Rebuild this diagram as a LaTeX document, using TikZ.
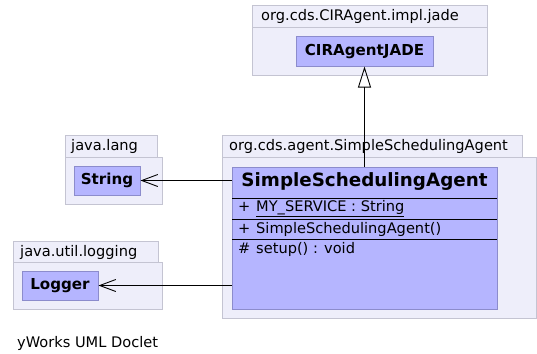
\documentclass[tikz,border=0pt]{standalone}
\usepackage{fontspec}
\setmainfont{DejaVu Sans}
\usetikzlibrary{arrows.meta}
\definecolor{pkgfill}{RGB}{238,238,250}
\definecolor{pkgline}{RGB}{196,196,210}
\definecolor{clsfill}{RGB}{181,181,255}
\definecolor{clsline}{RGB}{140,140,204}
\tikzset{
  pkg/.style={draw=pkgline, fill=pkgfill, line width=1pt, anchor=north west, inner sep=0pt},
  pkgname/.style={anchor=west, inner sep=0pt, font=\fontsize{14.6}{17}\selectfont},
  cls/.style={draw=clsline, fill=clsfill, line width=1pt, inner sep=0pt,
    font=\bfseries\fontsize{15.1}{17}\selectfont},
  member/.style={anchor=west, inner sep=0pt, font=\fontsize{14.6}{17}\selectfont},
  dep/.style={-{Straight Barb[length=16pt,width=12pt]}, line width=0.9pt},
  gen/.style={-{Triangle[open,length=21pt,width=13pt]}, line width=0.9pt}
}
\newcommand{\vis}[1]{\makebox[18pt][l]{#1}}
\begin{document}
\begin{tikzpicture}[x=1pt, y=-1pt]
        \useasboundingbox (0, 0) rectangle (537, 353);

        \node[pkg, minimum width=235, minimum height=22] (jadetab) at (252, 5) {};
        \node[pkg, minimum width=235, minimum height=48] (jadebody) at (252, 27) {};
        \node[pkgname] at ([xshift=9pt] jadetab.west) {org.cds.CIRAgent.impl.jade};

        \node[pkg, minimum width=92, minimum height=22] (langtab) at (65, 135) {};
        \node[pkg, minimum width=97, minimum height=47] (langbody) at (65, 157) {};
        \node[pkgname] at ([xshift=6pt] langtab.west) {java.lang};

        \node[pkg, minimum width=145, minimum height=21] (logtab) at (13, 241) {};
        \node[pkg, minimum width=149, minimum height=47] (logbody) at (13, 262) {};
        \node[pkgname] at ([xshift=7pt] logtab.west) {java.util.logging};

        \node[pkg, minimum width=300, minimum height=22] (agenttab) at (222, 135) {};
        \node[pkg, minimum width=314, minimum height=161] (agentbody) at (222, 157) {};
        \node[pkgname] at ([xshift=7pt] agenttab.west) {org.cds.agent.SimpleSchedulingAgent};

        \node[cls, minimum width=137, minimum height=29] (jade) at (364.5, 51.5) {CIRAgentJADE};
        \node[cls, minimum width=66, minimum height=29] (str) at (107, 180.5) {String};
        \node[cls, minimum width=76, minimum height=29] (log) at (60, 285.5) {Logger};

        \node[cls, minimum width=265, minimum height=142] (main) at (364.5, 238) {};
        \node[font=\bfseries\fontsize{18.3}{21}\selectfont, inner sep=0pt] (mainname) at (364.5, 182) {SimpleSchedulingAgent};
        \draw[line width=0.9pt] (232, 198) -- (497, 198);
        \draw[line width=0.9pt] (232, 219) -- (497, 219);
        \draw[line width=0.9pt] (232, 239) -- (497, 239);
        \node[member] (attr) at (238, 209) {\vis{+}\underline{MY\_SERVICE : String}};
        \node[member] (ctor) at (238, 229) {\vis{+}SimpleSchedulingAgent()};
        \node[member] (setup) at (238, 249) {\vis{\#}setup() : void};

        \draw[gen] (main.north) -- (jade.south);
        \draw[dep] (main.west |- str) -- (str.east);
        \draw[dep] (main.west |- log) -- (log.east);

        \node[anchor=west, inner sep=0pt, font=\fontsize{14.6}{17}\selectfont] (doclet) at (17, 343) {yWorks UML Doclet};
    \end{tikzpicture}
\end{document}
